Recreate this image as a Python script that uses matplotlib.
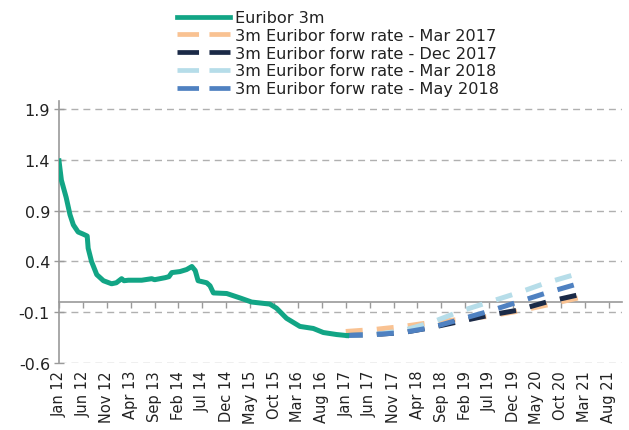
import matplotlib
matplotlib.use("Agg")
import matplotlib.pyplot as plt
from matplotlib.lines import Line2D

# months counted from Jan 2012
euribor_month = [0, 0.5, 1.5, 2.3, 3, 4, 5, 5.9, 6.1, 6.8, 7.9, 9.3, 11, 12, 13.1, 13.6,
                 14.5, 17.3, 19.4, 20, 22.2, 23, 23.6, 25.3, 26.7, 27.8, 28.5, 29.1, 30.9,
                 31.6, 32.3, 35.1, 37.9, 40.3, 44.1, 45.5, 47.6, 50.4, 53.2, 55.3, 58.1, 60.2]
euribor_rate = [1.39, 1.20, 1.03, 0.86, 0.76, 0.69, 0.67, 0.65, 0.53, 0.40, 0.27, 0.21, 0.18,
                0.19, 0.23, 0.21, 0.215, 0.215, 0.23, 0.22, 0.24, 0.25, 0.29, 0.30, 0.32, 0.35,
                0.31, 0.21, 0.19, 0.16, 0.09, 0.084, 0.04, 0.0, -0.02, -0.06, -0.16, -0.24,
                -0.26, -0.30, -0.32, -0.33]

fwd_month = [60, 66, 72, 78, 84, 90, 96, 102, 108.6]
fwd_mar17 = [-0.29, -0.27, -0.24, -0.20, -0.17, -0.14, -0.09, -0.03, 0.04]
fwd_dec17 = [-0.33, -0.32, -0.30, -0.25, -0.19, -0.13, -0.08, 0.0, 0.07]
fwd_mar18 = [-0.33, -0.32, -0.28, -0.20, -0.09, 0.0, 0.09, 0.19, 0.28]
fwd_may18 = [-0.33, -0.32, -0.30, -0.25, -0.17, -0.09, 0.0, 0.09, 0.18]

tick_labels = ["Jan 12", "Jun 12", "Nov 12", "Apr 13", "Sep 13", "Feb 14", "Jul 14", "Dec 14",
               "May 15", "Oct 15", "Mar 16", "Aug 16", "Jan 17", "Jun 17", "Nov 17", "Apr 18",
               "Sep 18", "Feb 19", "Jul 19", "Dec 19", "May 20", "Oct 20", "Mar 21", "Aug 21"]
tick_pos = [5 * i for i in range(len(tick_labels))]
y_ticks = [-0.6, -0.1, 0.4, 0.9, 1.4, 1.9]

plt.rcParams['font.family'] = ['DejaVu Sans']
plt.rcParams['lines.scale_dashes'] = False
txt = '#222222'
axc = '#9a9a9a'

fig = plt.figure(figsize=(6.29, 4.31), dpi=100)
ax = fig.add_axes([0.0938, 0.1555, 0.8951, 0.6079])

green = '#12a585'
cols = ['#f9c292', '#1b2a47', '#b6dde9', '#4f81c1']
names = ['3m Euribor forw rate - Mar 2017', '3m Euribor forw rate - Dec 2017',
         '3m Euribor forw rate - Mar 2018', '3m Euribor forw rate - May 2018']

ax.plot(euribor_month, euribor_rate, color=green, lw=3.6, solid_joinstyle='round', zorder=5)
for vals, c in zip([fwd_mar17, fwd_dec17, fwd_mar18, fwd_may18], cols):
    ax.plot(fwd_month, vals, color=c, lw=3.6, dashes=(12.2, 10.2), dash_capstyle='butt', zorder=4)

ax.set_xlim(0, 117.8)
ax.set_ylim(-0.6, 1.98)
ax.set_yticks(y_ticks)
ax.set_yticklabels([f"{v:.1f}" for v in y_ticks])
ax.yaxis.grid(True, color='#b0b0b0', lw=1.0, dashes=(5, 3.6))
ax.set_axisbelow(True)

for s in ['top', 'right']:
    ax.spines[s].set_visible(False)
ax.spines['left'].set_color(axc)
ax.spines['left'].set_linewidth(1.2)
ax.spines['bottom'].set_position(('data', 0))
ax.spines['bottom'].set_color(axc)
ax.spines['bottom'].set_linewidth(1.2)

ax.set_xticks(tick_pos)
ax.tick_params(axis='x', direction='out', length=4, width=1, color=axc, labelbottom=False)
ax.tick_params(axis='y', direction='inout', length=7, width=1, color=axc, labelsize=11.5,
               labelcolor=txt, pad=3)

sec = ax.secondary_xaxis('bottom', functions=(lambda x: x, lambda x: x))
sec.set_xticks(tick_pos)
sec.set_xticklabels(tick_labels, rotation=90)
sec.tick_params(length=0, pad=5, labelsize=10.5, labelcolor=txt)
sec.spines['bottom'].set_visible(False)

handles = [Line2D([], [], color=green, lw=3.4)]
for c in cols:
    handles.append(Line2D([], [], color=c, lw=3.4, dashes=(15.5, 7.5), dash_capstyle='butt'))
fig.legend(handles, ['Euribor 3m'] + names, loc='upper left', bbox_to_anchor=(0.263, 1.0),
           frameon=False, fontsize=11.6, handlelength=3.3, handletextpad=0.3,
           labelspacing=0.17, borderpad=0.2, labelcolor=txt)

fig.savefig('out.png', dpi=100)
